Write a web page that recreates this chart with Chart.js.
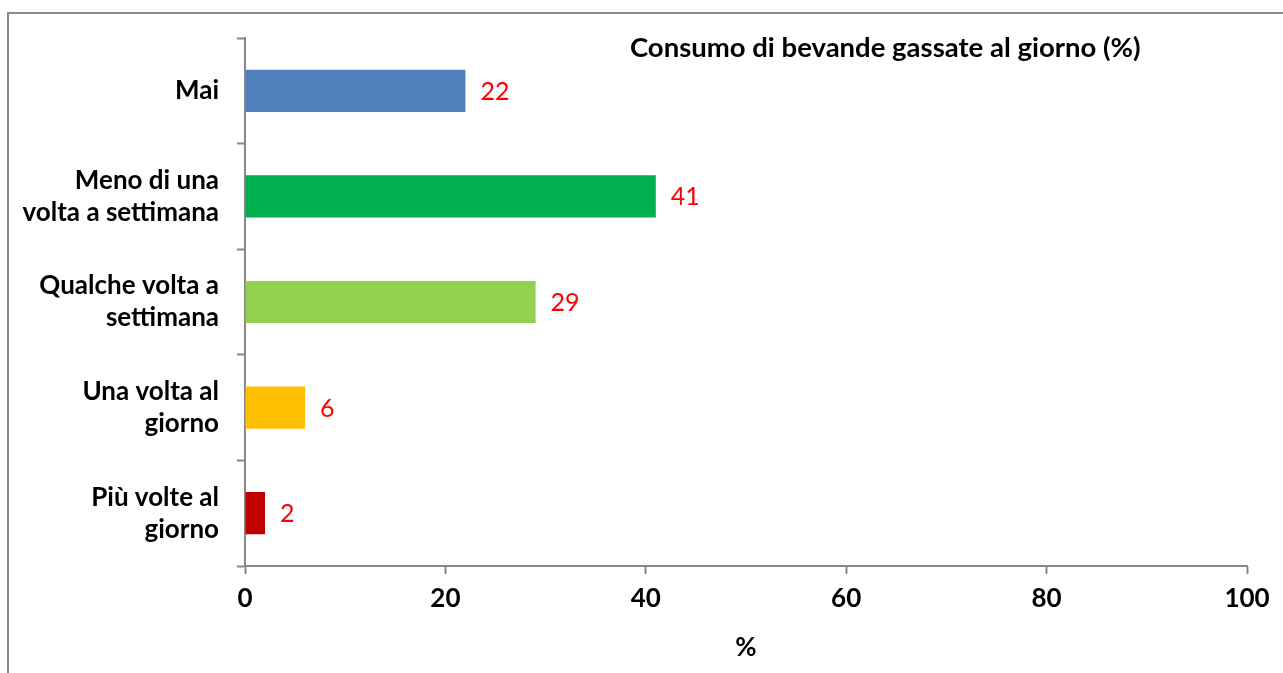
<!DOCTYPE html>
<html>
<head>
<meta charset="utf-8">
<script src="https://cdn.jsdelivr.net/npm/chart.js@4"></script>
<style>
  body { margin: 0; background: #fff; overflow: hidden; }
  #wrap { position: relative; width: 1283px; height: 673px; }
  #frame { position: absolute; left: 7px; top: 12px; width: 1400px; height: 800px;
           border-top: 2px solid #8a8a8a; border-left: 2px solid #8a8a8a; pointer-events: none; }
  canvas { position: absolute; left: 0; top: 0; }
</style>
</head>
<body>
<div id="wrap">
  <canvas id="barChart" width="1283" height="673"></canvas>
  <div id="frame"></div>
</div>
<script>
const categories = [
  'Mai',
  ['Meno di una', 'volta a settimana'],
  ['Qualche volta a', 'settimana'],
  ['Una volta al', 'giorno'],
  ['Più volte al', 'giorno']
];
const values = [22, 41, 29, 6, 2];
const barColors = ['#4f81bd', '#00b050', '#92d050', '#ffc000', '#c00000'];
const chartTitle = 'Consumo di bevande gassate al giorno (%)';
const axisTitle = '%';

const FONT = 'Lato';
const axisColor = '#888888';

// red value labels at the end of each bar
const valueLabels = {
  id: 'valueLabels',
  afterDatasetsDraw(chart) {
    const c = chart.ctx;
    const meta = chart.getDatasetMeta(0);
    c.save();
    c.font = '25px ' + FONT;
    c.fillStyle = '#ff0000';
    c.textAlign = 'left';
    c.textBaseline = 'middle';
    meta.data.forEach((bar, i) => {
      c.fillText(values[i], bar.x + 15, bar.y + 1);
    });
    c.restore();
  }
};

// title sits inside the plot area, upper right
const innerTitle = {
  id: 'innerTitle',
  afterDraw(chart) {
    const c = chart.ctx;
    const a = chart.chartArea;
    c.save();
    c.font = 'bold 27.5px ' + FONT;
    c.fillStyle = '#000';
    c.textAlign = 'center';
    c.textBaseline = 'middle';
    c.fillText(chartTitle, a.left + (a.right - a.left) * 0.639, a.top + 10);
    c.restore();
  }
};

new Chart(document.getElementById('barChart'), {
  type: 'bar',
  data: {
    labels: categories,
    datasets: [{
      data: values,
      backgroundColor: barColors,
      borderWidth: 0,
      barPercentage: 0.5,
      categoryPercentage: 0.8
    }]
  },
  options: {
    indexAxis: 'y',
    responsive: false,
    animation: false,
    layout: { padding: { top: 38, right: 36, left: 0, bottom: 0 } },
    plugins: {
      legend: { display: false },
      tooltip: { enabled: false }
    },
    scales: {
      x: {
        min: 0,
        max: 100,
        ticks: {
          stepSize: 20,
          color: '#000',
          padding: 9,
          font: { family: FONT, size: 26, weight: 'bold' }
        },
        grid: { drawOnChartArea: false, tickLength: 8, tickColor: axisColor, tickWidth: 2 },
        border: { color: axisColor, width: 2 },
        title: {
          display: true,
          text: axisTitle,
          color: '#000',
          padding: { top: 4, bottom: 10 },
          font: { family: FONT, size: 26, weight: 'bold' }
        },
        afterFit(scale) { scale.height = 107; }
      },
      y: {
        ticks: {
          color: '#000',
          padding: 18,
          font: { family: FONT, size: 26, weight: 'bold', lineHeight: 1.23 }
        },
        grid: { drawOnChartArea: false, offset: true, tickLength: 8, tickColor: axisColor, tickWidth: 2 },
        border: { color: axisColor, width: 2 },
        afterFit(scale) {
          scale.width = 245;
          scale.paddingTop = 0;
          scale.paddingBottom = 0;
        }
      }
    }
  },
  plugins: [valueLabels, innerTitle]
});
</script>
</body>
</html>
